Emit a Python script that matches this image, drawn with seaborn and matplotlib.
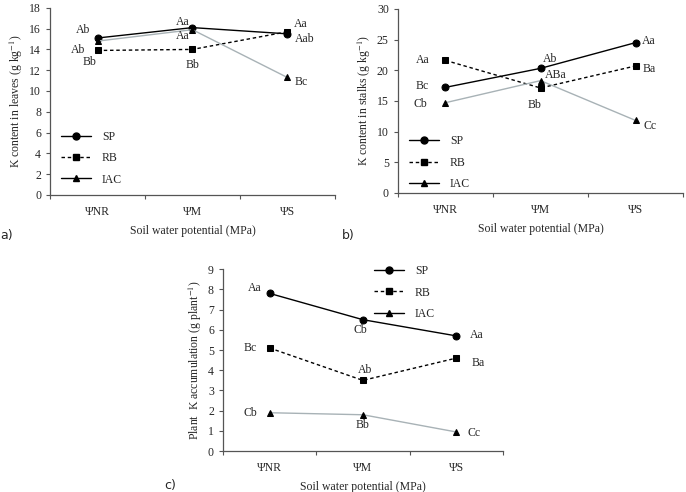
import pandas as pd
import matplotlib
matplotlib.use('Agg')
from matplotlib import pyplot as plt
from matplotlib.lines import Line2D
import seaborn as sns

sns.set_style('ticks')
plt.rcParams['font.family'] = ['Liberation Serif', 'DejaVu Serif']
plt.rcParams['mathtext.fontset'] = 'stix'

# data
potentials = ['ΨNR', 'ΨM', 'ΨS']
cultivars = ['SP', 'RB', 'IAC']

leaves_sp = [15.1, 16.1, 15.5]
leaves_rb = [13.9, 14.0, 15.7]
leaves_iac = [14.8, 15.9, 11.3]
leaves_sp_lab = ['Ab', 'Aa', 'Aab']
leaves_rb_lab = ['Bb', 'Bb', 'Aa']
leaves_iac_lab = ['Ab', 'Aa', 'Bc']

stalks_sp = [17.2, 20.3, 24.5]
stalks_rb = [21.6, 17.1, 20.7]
stalks_iac = [14.7, 18.3, 11.8]
stalks_sp_lab = ['Bc', 'Ab', 'Aa']
stalks_rb_lab = ['Aa', 'Bb', 'Ba']
stalks_iac_lab = ['Cb', 'ABa', 'Cc']

plant_sp = [7.8, 6.5, 5.7]
plant_rb = [5.1, 3.5, 4.6]
plant_iac = [1.9, 1.8, 0.95]
plant_sp_lab = ['Aa', 'Cb', 'Aa']
plant_rb_lab = ['Bc', 'Ab', 'Ba']
plant_iac_lab = ['Cb', 'Bb', 'Cc']

colors = {'SP': 'black', 'RB': 'black', 'IAC': '#a8b2b6'}
markers = {'SP': 'o', 'RB': 's', 'IAC': '^'}
msizes = {'SP': 5, 'RB': 5, 'IAC': 4.5}
dashes = {'SP': '', 'RB': (2.5, 2), 'IAC': ''}
FS = 8.5


def make_df(sp, rb, iac):
    rows = []
    for cv, vals in zip(cultivars, [sp, rb, iac]):
        for i, v in enumerate(vals):
            rows.append({'pos': i, 'cv': cv, 'val': v})
    return pd.DataFrame(rows)


def draw(ax, sp, rb, iac, labs, offs, ymax, ystep, ylabel, leg_anchor):
    df = make_df(sp, rb, iac)
    for cv in cultivars:
        d = df[df['cv'] == cv]
        sns.lineplot(data=d, x='pos', y='val', color=colors[cv], marker=markers[cv],
                     markersize=msizes[cv], markerfacecolor='black', markeredgecolor='black',
                     linewidth=1, ax=ax, legend=False)
        if dashes[cv]:
            ax.lines[-1].set_dashes(dashes[cv])
    for cv, vals in zip(cultivars, [sp, rb, iac]):
        for i, v in enumerate(vals):
            dx, dy = offs[cv][i]
            ax.annotate(labs[cv][i], (i, v), xytext=(dx, dy), textcoords='offset pixels',
                        ha='center', va='center', fontsize=FS)
    ax.set_xlim(-0.5, 2.5)
    ax.set_ylim(0, ymax)
    ax.set_yticks([ystep * k for k in range(int(ymax / ystep) + 1)])
    ax.set_xticks(range(3))
    ax.set_xticklabels(potentials)
    ax.set_xticks([-0.5, 0.5, 1.5, 2.5], minor=True)
    ax.tick_params(axis='x', which='major', length=0, labelsize=FS, pad=8)
    ax.tick_params(axis='x', which='minor', length=3, width=0.8, color='#555')
    ax.tick_params(axis='y', length=3, width=0.8, labelsize=FS, color='#555')
    ax.set_xlabel('Soil water potential (MPa)', fontsize=FS, labelpad=5)
    ax.set_ylabel(ylabel, fontsize=FS, labelpad=3)
    sns.despine(ax=ax)
    for s in ['left', 'bottom']:
        ax.spines[s].set_color('#555')
        ax.spines[s].set_linewidth(0.9)
    handles = [Line2D([], [], color='black', marker=markers[cv], markersize=msizes[cv],
                      linewidth=1, linestyle='--' if cv == 'RB' else '-',
                      dashes=dashes[cv] if dashes[cv] else (None, None)) for cv in cultivars]
    ax.legend(handles, cultivars, loc='upper left', bbox_to_anchor=leg_anchor, frameon=False,
              fontsize=FS, handlelength=2.6, labelspacing=0.8, handletextpad=0.9)


fig = plt.figure(figsize=(6.86, 4.92), dpi=100)
ax_a = fig.add_axes([0.073, 0.604, 0.415, 0.38])
ax_b = fig.add_axes([0.580, 0.608, 0.416, 0.374])
ax_c = fig.add_axes([0.325, 0.083, 0.408, 0.370])

draw(ax_a, leaves_sp, leaves_rb, leaves_iac,
     {'SP': leaves_sp_lab, 'RB': leaves_rb_lab, 'IAC': leaves_iac_lab},
     {'SP': [(-14, 8), (-10, 6), (17, -5)],
      'RB': [(-8, -12), (0, -16), (13, 8)],
      'IAC': [(-19, -9), (-10, -6), (14, -5)]},
     18, 2, 'K content in leaves (g kg$^{-1}$)', (0.0, 0.40))

draw(ax_b, stalks_sp, stalks_rb, stalks_iac,
     {'SP': stalks_sp_lab, 'RB': stalks_rb_lab, 'IAC': stalks_iac_lab},
     {'SP': [(-23, 1), (10, 9), (13, 2)],
      'RB': [(-23, 0), (-6, -17), (14, -3)],
      'IAC': [(-25, -1), (15, 6), (14, -6)]},
     30, 5, 'K content in stalks (g kg$^{-1}$)', (0.0, 0.37))

draw(ax_c, plant_sp, plant_rb, plant_iac,
     {'SP': plant_sp_lab, 'RB': plant_rb_lab, 'IAC': plant_iac_lab},
     {'SP': [(-15, 5), (-3, -10), (21, 1)],
      'RB': [(-19, 0), (2, 10), (22, -5)],
      'IAC': [(-19, 0), (0, -10), (18, -1)]},
     9, 1, 'Plant  K accumulation (g plant$^{-1}$)', (0.5, 1.08))

fig.text(0.001, 0.515, 'a)', fontsize=9, family='DejaVu Sans')
fig.text(0.499, 0.515, 'b)', fontsize=9, family='DejaVu Sans')
fig.text(0.240, 0.006, 'c)', fontsize=9, family='DejaVu Sans')

fig.savefig('out.png', dpi=100)
